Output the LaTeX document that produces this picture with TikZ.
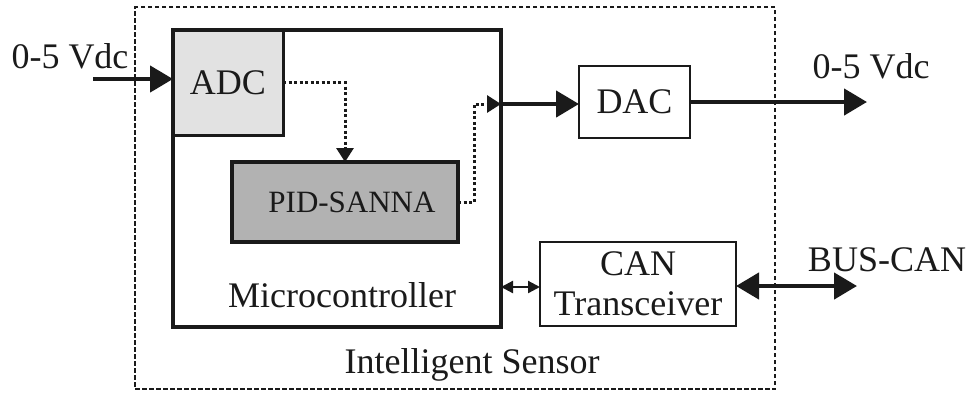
\documentclass[tikz,border=0pt]{standalone}
\usepackage{fontspec}
\setmainfont{Liberation Serif}
\usetikzlibrary{arrows.meta}
\definecolor{ink}{HTML}{1A1A1A}
\definecolor{adcfill}{HTML}{E2E2E2}
\definecolor{pidfill}{HTML}{B2B2B2}
\begin{document}
\begin{tikzpicture}[x=1pt,y=-1pt,
  txt/.style={font=\fontsize{36}{40}\selectfont, text=ink, inner sep=0pt, align=center},
  blk/.style={draw=ink, inner sep=0pt, outer sep=0pt, line width=2pt, txt},
  thickarrow/.style={draw=ink, line width=4.5pt, -{Triangle[length=23pt,width=26pt]}},
  bigdouble/.style={draw=ink, line width=4.5pt, {Triangle[length=23pt,width=26pt]}-{Triangle[length=23pt,width=26pt]}},
  dotarrow/.style={draw=ink, line width=3pt, dash pattern=on 3pt off 2.5pt, -{Triangle[length=14pt,width=17pt]}},
  smalldouble/.style={draw=ink, line width=2.2pt, {Triangle[length=12pt,width=12pt]}-{Triangle[length=12pt,width=12pt]}}
]
\useasboundingbox (0,0) rectangle (979,392);
% outer dashed box
\node[draw=ink, line width=2.2pt, dash pattern=on 4.5pt off 2.5pt, minimum width=640pt, minimum height=382pt, inner sep=0pt] (sensor) at (455,198) {};
\node[txt] (sensorlbl) at (472,365) {Intelligent Sensor};
% microcontroller
\node[blk, line width=4.5pt, minimum width=328pt, minimum height=297pt] (mc) at (337,178.5) {};
\node[txt] (mclbl) at (342,295) {Microcontroller};
% ADC
\node[blk, line width=3pt, fill=adcfill, minimum width=110pt, minimum height=105pt] (adc) at (228,82.5) {ADC};
% PID-SANNA
\node[blk, line width=3.5pt, fill=pidfill, minimum width=226pt, minimum height=80pt, font=\fontsize{31}{36}\selectfont] (pid) at (345,202) {\hspace*{14pt}PID-SANNA};
% DAC
\node[blk, minimum width=111pt, minimum height=72pt] (dac) at (634.5,102) {DAC};
% CAN
\node[blk, minimum width=196pt, minimum height=84pt] (can) at (638,284) {CAN\\Transceiver};
% labels
\node[txt] (inlbl) at (70,56) {0-5 Vdc};
\node[txt] (outlbl) at (871,66) {0-5 Vdc};
\node[txt] (buslbl) at (887,260) {BUS-CAN};
% coordinates
\coordinate (inpt) at (93,79);
\coordinate (pidturn) at (474,202);
\coordinate (mcout) at (501,104);
\coordinate (outpt) at (867,102);
\coordinate (buspt) at (857,286);
% connectors
\draw[thickarrow] (inpt) -- (inpt -| adc.west);
\draw[dotarrow] (adc.east) -| (pid.north);
\draw[dotarrow] (pid.east) -- (pidturn) |- (mcout);
\draw[thickarrow] (mcout) -- (mcout -| dac.west);
\draw[thickarrow] (dac.east) -- (outpt);
\draw[smalldouble] (mc.east |- 0,287) -- (can.west |- 0,287);
\draw[bigdouble] (can.east |- buspt) -- (buspt);
\end{tikzpicture}
\end{document}
